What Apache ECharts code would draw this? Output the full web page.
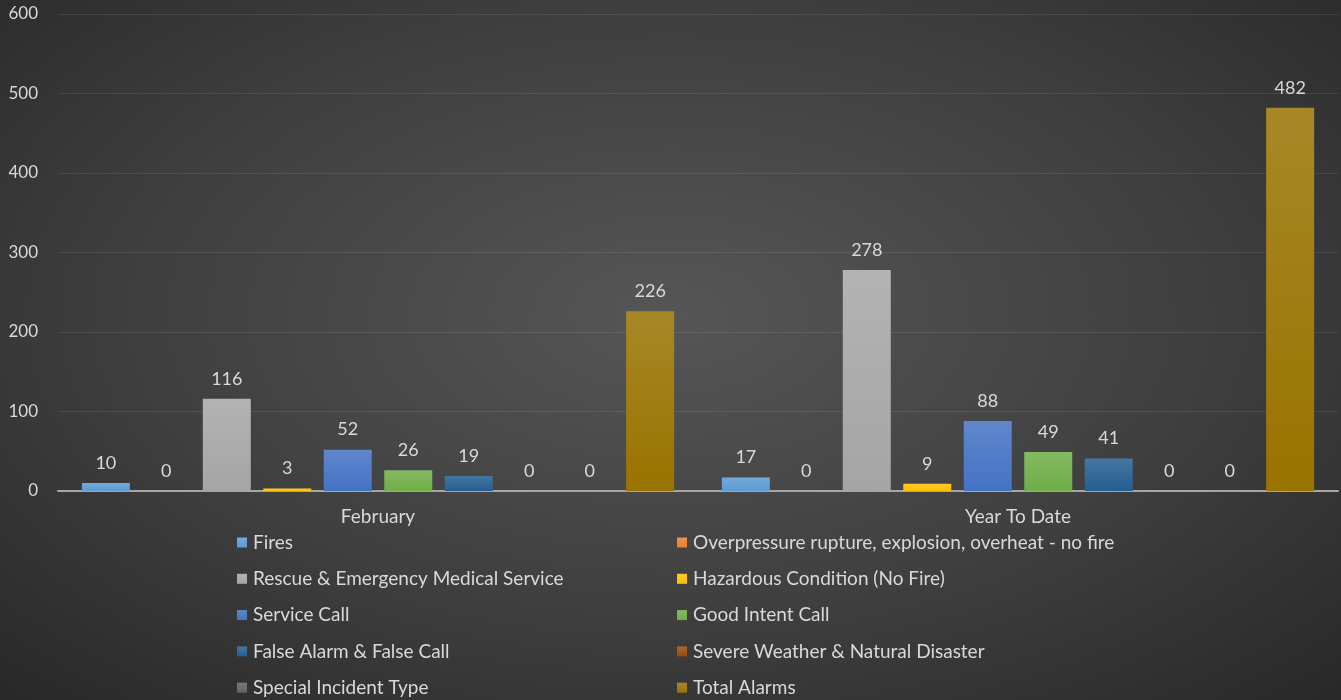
<!DOCTYPE html>
<html><head><meta charset="utf-8">
<script src="https://cdn.jsdelivr.net/npm/echarts@6/dist/echarts.min.js"></script>
<style>
html,body{margin:0;padding:0;width:1341px;height:700px;overflow:hidden;
background:radial-gradient(ellipse 75% 80% at 50% 45%, #565656 0%, #3e3e3e 55%, #262626 100%);}
#c{width:1341px;height:700px;}
</style></head><body><div id="c"></div>
<script>
const categories = ["February", "Year To Date"];
const seriesNames = [
  "Fires",
  "Overpressure rupture, explosion, overheat - no fire",
  "Rescue & Emergency Medical Service",
  "Hazardous Condition (No Fire)",
  "Service Call",
  "Good Intent Call",
  "False Alarm & False Call",
  "Severe Weather & Natural Disaster",
  "Special Incident Type",
  "Total Alarms"
];
const february = [10, 0, 116, 3, 52, 26, 19, 0, 0, 226];
const yearToDate = [17, 0, 278, 9, 88, 49, 41, 0, 0, 482];
const yTicks = [0, 100, 200, 300, 400, 500, 600];
const colors = ["#5B9BD5", "#ED7D31", "#A5A5A5", "#FFC000", "#4472C4", "#70AD47", "#255E91", "#9E480E", "#636363", "#997300"];

function lighten(hex, f) {
  const n = parseInt(hex.slice(1), 16);
  let r = (n >> 16) & 255, g = (n >> 8) & 255, b = n & 255;
  r = Math.round(r + (255 - r) * f); g = Math.round(g + (255 - g) * f); b = Math.round(b + (255 - b) * f);
  return "rgb(" + r + "," + g + "," + b + ")";
}

const txt = "#d9d9d9";
const font = "Lato";
const series = seriesNames.map((name, i) => ({
  name: name,
  type: "bar",
  data: [february[i], yearToDate[i]],
  barWidth: 48,
  barGap: "26%",
  itemStyle: {
    color: {type: "linear", x: 0, y: 0, x2: 0, y2: 1,
      colorStops: [{offset: 0, color: lighten(colors[i], 0.15)}, {offset: 1, color: colors[i]}]}
  },
  label: {show: true, position: "top", distance: 11, color: txt, fontFamily: font, fontSize: 18}
}));

const leftNames = [0, 2, 4, 6, 8].map(i => seriesNames[i]);
const rightNames = [1, 3, 5, 7, 9].map(i => seriesNames[i]);
const legendBase = {
  orient: "vertical", top: 533, height: 167, padding: 0,
  itemWidth: 10, itemHeight: 10, itemGap: 17.3, icon: "rect",
  textStyle: {color: txt, fontFamily: font, fontSize: 19, padding: [0, 0, 0, 1]}
};

const chart = echarts.init(document.getElementById("c"), null, {renderer: "canvas"});
chart.setOption({
  backgroundColor: "transparent",
  color: colors,
  animation: false,
  grid: {left: 58, right: 3, top: 14, bottom: 209, containLabel: false},
  legend: [
    Object.assign({}, legendBase, {left: 237, data: leftNames}),
    Object.assign({}, legendBase, {left: 677, data: rightNames})
  ],
  xAxis: {
    type: "category", data: categories,
    axisLine: {lineStyle: {color: "#a6a6a6", width: 2}},
    axisTick: {show: false},
    axisLabel: {color: txt, fontFamily: font, fontSize: 19, margin: 16}
  },
  yAxis: {
    type: "value", min: yTicks[0], max: yTicks[yTicks.length - 1], interval: 100,
    axisLine: {show: false}, axisTick: {show: false},
    axisLabel: {color: txt, fontFamily: font, fontSize: 17, margin: 20},
    splitLine: {lineStyle: {color: "rgba(255,255,255,0.09)", width: 1}}
  },
  series: series
});
</script></body></html>
